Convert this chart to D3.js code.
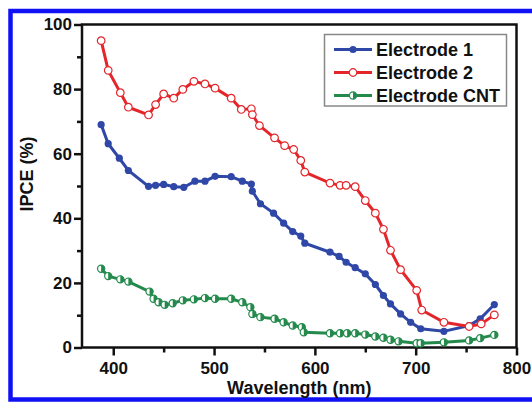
<!DOCTYPE html>
<html>
<head>
<meta charset="utf-8">
<script src="https://cdn.jsdelivr.net/npm/d3@7"></script>
<style>
  body { margin: 0; background: #fff; }
  svg text { font-family: "Liberation Sans", Arial, sans-serif; font-weight: bold; fill: #111; }
</style>
</head>
<body>
<div id="chart"></div>
<script>
// Electrode 1 (blue, filled circles)
var wave1 = [388, 395, 406, 415, 435, 442, 450, 460, 470, 481, 491, 501, 517, 528, 537, 538, 546, 559, 569, 578, 586, 590, 615, 624, 631, 640, 650, 660, 668, 675, 685, 695, 705, 728, 753, 764, 778];
var ipce1 = [69.0, 63.1, 58.6, 54.8, 49.9, 50.2, 50.5, 49.8, 49.6, 51.5, 51.5, 53.0, 52.9, 51.5, 50.6, 48.4, 44.5, 41.6, 38.5, 35.9, 34.5, 32.3, 29.5, 28.2, 26.4, 24.7, 22.8, 19.5, 16.1, 13.5, 10.4, 7.8, 5.8, 5.0, 6.8, 8.9, 13.3];

// Electrode 2 (red, open circles)
var wave2 = [388, 395, 407, 415, 435, 442, 450, 460, 469, 480, 491, 501, 517, 527, 537, 538, 545, 560, 570, 579, 586, 590, 615, 625, 631, 640, 650, 660, 668, 675, 685, 701, 706, 728, 753, 765, 778];
var ipce2 = [95.0, 85.8, 78.9, 74.4, 72.0, 75.2, 78.5, 77.2, 79.9, 82.4, 81.6, 80.3, 77.2, 73.7, 73.9, 72.1, 68.7, 64.9, 62.5, 61.3, 57.9, 54.3, 50.9, 50.2, 50.2, 49.8, 45.5, 41.6, 36.6, 30.1, 24.1, 17.7, 11.6, 7.8, 6.5, 7.3, 10.1];

// Electrode CNT (green, half filled circles)
var waveC = [388, 395, 407, 415, 436, 440, 445, 451, 459, 469, 480, 491, 501, 517, 528, 536, 538, 546, 560, 569, 578, 587, 589, 615, 625, 632, 640, 650, 660, 668, 675, 683, 701, 705, 728, 753, 764, 778];
var ipceC = [24.4, 22.1, 21.1, 20.4, 17.3, 15.1, 14.0, 13.2, 13.7, 14.6, 14.9, 15.3, 15.1, 15.1, 14.0, 12.5, 10.4, 9.4, 8.9, 7.8, 6.8, 6.3, 4.7, 4.4, 4.4, 4.4, 4.4, 4.0, 3.4, 3.0, 2.4, 1.9, 1.3, 1.3, 1.6, 2.2, 2.9, 3.9];

var xTicks = [400, 500, 600, 700, 800];
var xMinor = [450, 550, 650, 750];
var yTicks = [0, 20, 40, 60, 80, 100];
var yMinor = [10, 30, 50, 70, 90];

var seriesNames = ["Electrode 1", "Electrode 2", "Electrode CNT"];
var seriesColors = ["#2f47a6", "#e4262b", "#238a4c"];

var width = 532, height = 402;
var margin = {top: 24.5, right: 15.5, bottom: 54.5, left: 82};

var svg = d3.select("#chart")
    .append("svg")
    .attr("width", width)
    .attr("height", height);

// blue page border
svg.append("path")
    .attr("d", "M532,11 L10.5,11 L10.5,399.5 L532,399.5")
    .attr("fill", "none")
    .attr("stroke", "#1010f5")
    .attr("stroke-width", 4.5);

var xScale = d3.scaleLinear()
    .domain([369, 800])
    .range([margin.left, width - margin.right]);

var yScale = d3.scaleLinear()
    .domain([0, 100])
    .range([height - margin.bottom, margin.top]);

var x0 = margin.left, x1 = width - margin.right;
var y0 = height - margin.bottom, y1 = margin.top;

// axes
var xAxis = svg.append("g")
    .attr("transform", `translate(0, ${y0})`)
    .call(d3.axisBottom(xScale).tickValues(xTicks).tickSize(8).tickPadding(6));
xAxis.select(".domain").remove();

var xAxisMinor = svg.append("g")
    .attr("transform", `translate(0, ${y0})`)
    .call(d3.axisBottom(xScale).tickValues(xMinor).tickSize(5).tickFormat(""));
xAxisMinor.select(".domain").remove();

var yAxis = svg.append("g")
    .attr("transform", `translate(${x0}, 0)`)
    .call(d3.axisLeft(yScale).tickValues(yTicks).tickSize(8).tickPadding(2));
yAxis.select(".domain").remove();

var yAxisMinor = svg.append("g")
    .attr("transform", `translate(${x0}, 0)`)
    .call(d3.axisLeft(yScale).tickValues(yMinor).tickSize(5).tickFormat(""));
yAxisMinor.select(".domain").remove();

svg.selectAll(".tick line").attr("stroke", "#111").attr("stroke-width", 2.5);
svg.selectAll(".tick text").style("font-size", "17px").attr("fill", "#111");

// frame
svg.append("rect")
    .attr("x", x0)
    .attr("y", y1)
    .attr("width", x1 - x0)
    .attr("height", y0 - y1)
    .attr("fill", "none")
    .attr("stroke", "#111")
    .attr("stroke-width", 2.5);

// axis titles
svg.append("text")
    .attr("x", (x0 + x1) / 2)
    .attr("y", 394)
    .attr("text-anchor", "middle")
    .style("font-size", "18px")
    .text("Wavelength (nm)");

svg.append("text")
    .attr("transform", "translate(33, 174) rotate(-90)")
    .attr("text-anchor", "middle")
    .style("font-size", "18px")
    .text("IPCE (%)");

var line = d3.line()
    .x(function(d) { return xScale(d[0]); })
    .y(function(d) { return yScale(d[1]); });

var series = [
    d3.zip(wave1, ipce1),
    d3.zip(wave2, ipce2),
    d3.zip(waveC, ipceC)
];

// half-filled marker for CNT
var halfArc = d3.arc().innerRadius(0).outerRadius(3.6).startAngle(0).endAngle(Math.PI);

function drawMarker(g, i) {
    if (i === 0) {
        g.append("circle").attr("r", 3.6).attr("fill", seriesColors[0]);
    } else if (i === 1) {
        g.append("circle").attr("r", 3.8).attr("fill", "#fff")
            .attr("stroke", seriesColors[1]).attr("stroke-width", 1.2);
    } else {
        g.append("circle").attr("r", 3.6).attr("fill", "#fff")
            .attr("stroke", seriesColors[2]).attr("stroke-width", 1.2);
        g.append("path").attr("d", halfArc()).attr("fill", seriesColors[2]);
    }
}

[2, 0, 1].forEach(function(i) {
    svg.append("path")
        .datum(series[i])
        .attr("d", line)
        .attr("fill", "none")
        .attr("stroke", seriesColors[i])
        .attr("stroke-width", 3);

    svg.append("g")
        .selectAll("g")
        .data(series[i])
        .enter()
        .append("g")
        .attr("transform", function(d) { return `translate(${xScale(d[0])}, ${yScale(d[1])})`; })
        .each(function() { drawMarker(d3.select(this), i); });
});

// legend
var legend = svg.append("g");
legend.append("rect")
    .attr("x", 324.5)
    .attr("y", 34.5)
    .attr("width", 182)
    .attr("height", 71.5)
    .attr("fill", "#fff")
    .attr("stroke", "#888")
    .attr("stroke-width", 1.5);

var legendRows = [49.5, 72.5, 95.5];
seriesNames.forEach(function(name, i) {
    var row = legend.append("g").attr("transform", `translate(0, ${legendRows[i]})`);
    row.append("line")
        .attr("x1", 334).attr("x2", 372)
        .attr("stroke", seriesColors[i])
        .attr("stroke-width", 3);
    drawMarker(row.append("g").attr("transform", "translate(353, 0)"), i);
    row.append("text")
        .attr("x", 376)
        .attr("dy", "0.36em")
        .style("font-size", "18px")
        .text(name);
});
</script>
</body>
</html>
